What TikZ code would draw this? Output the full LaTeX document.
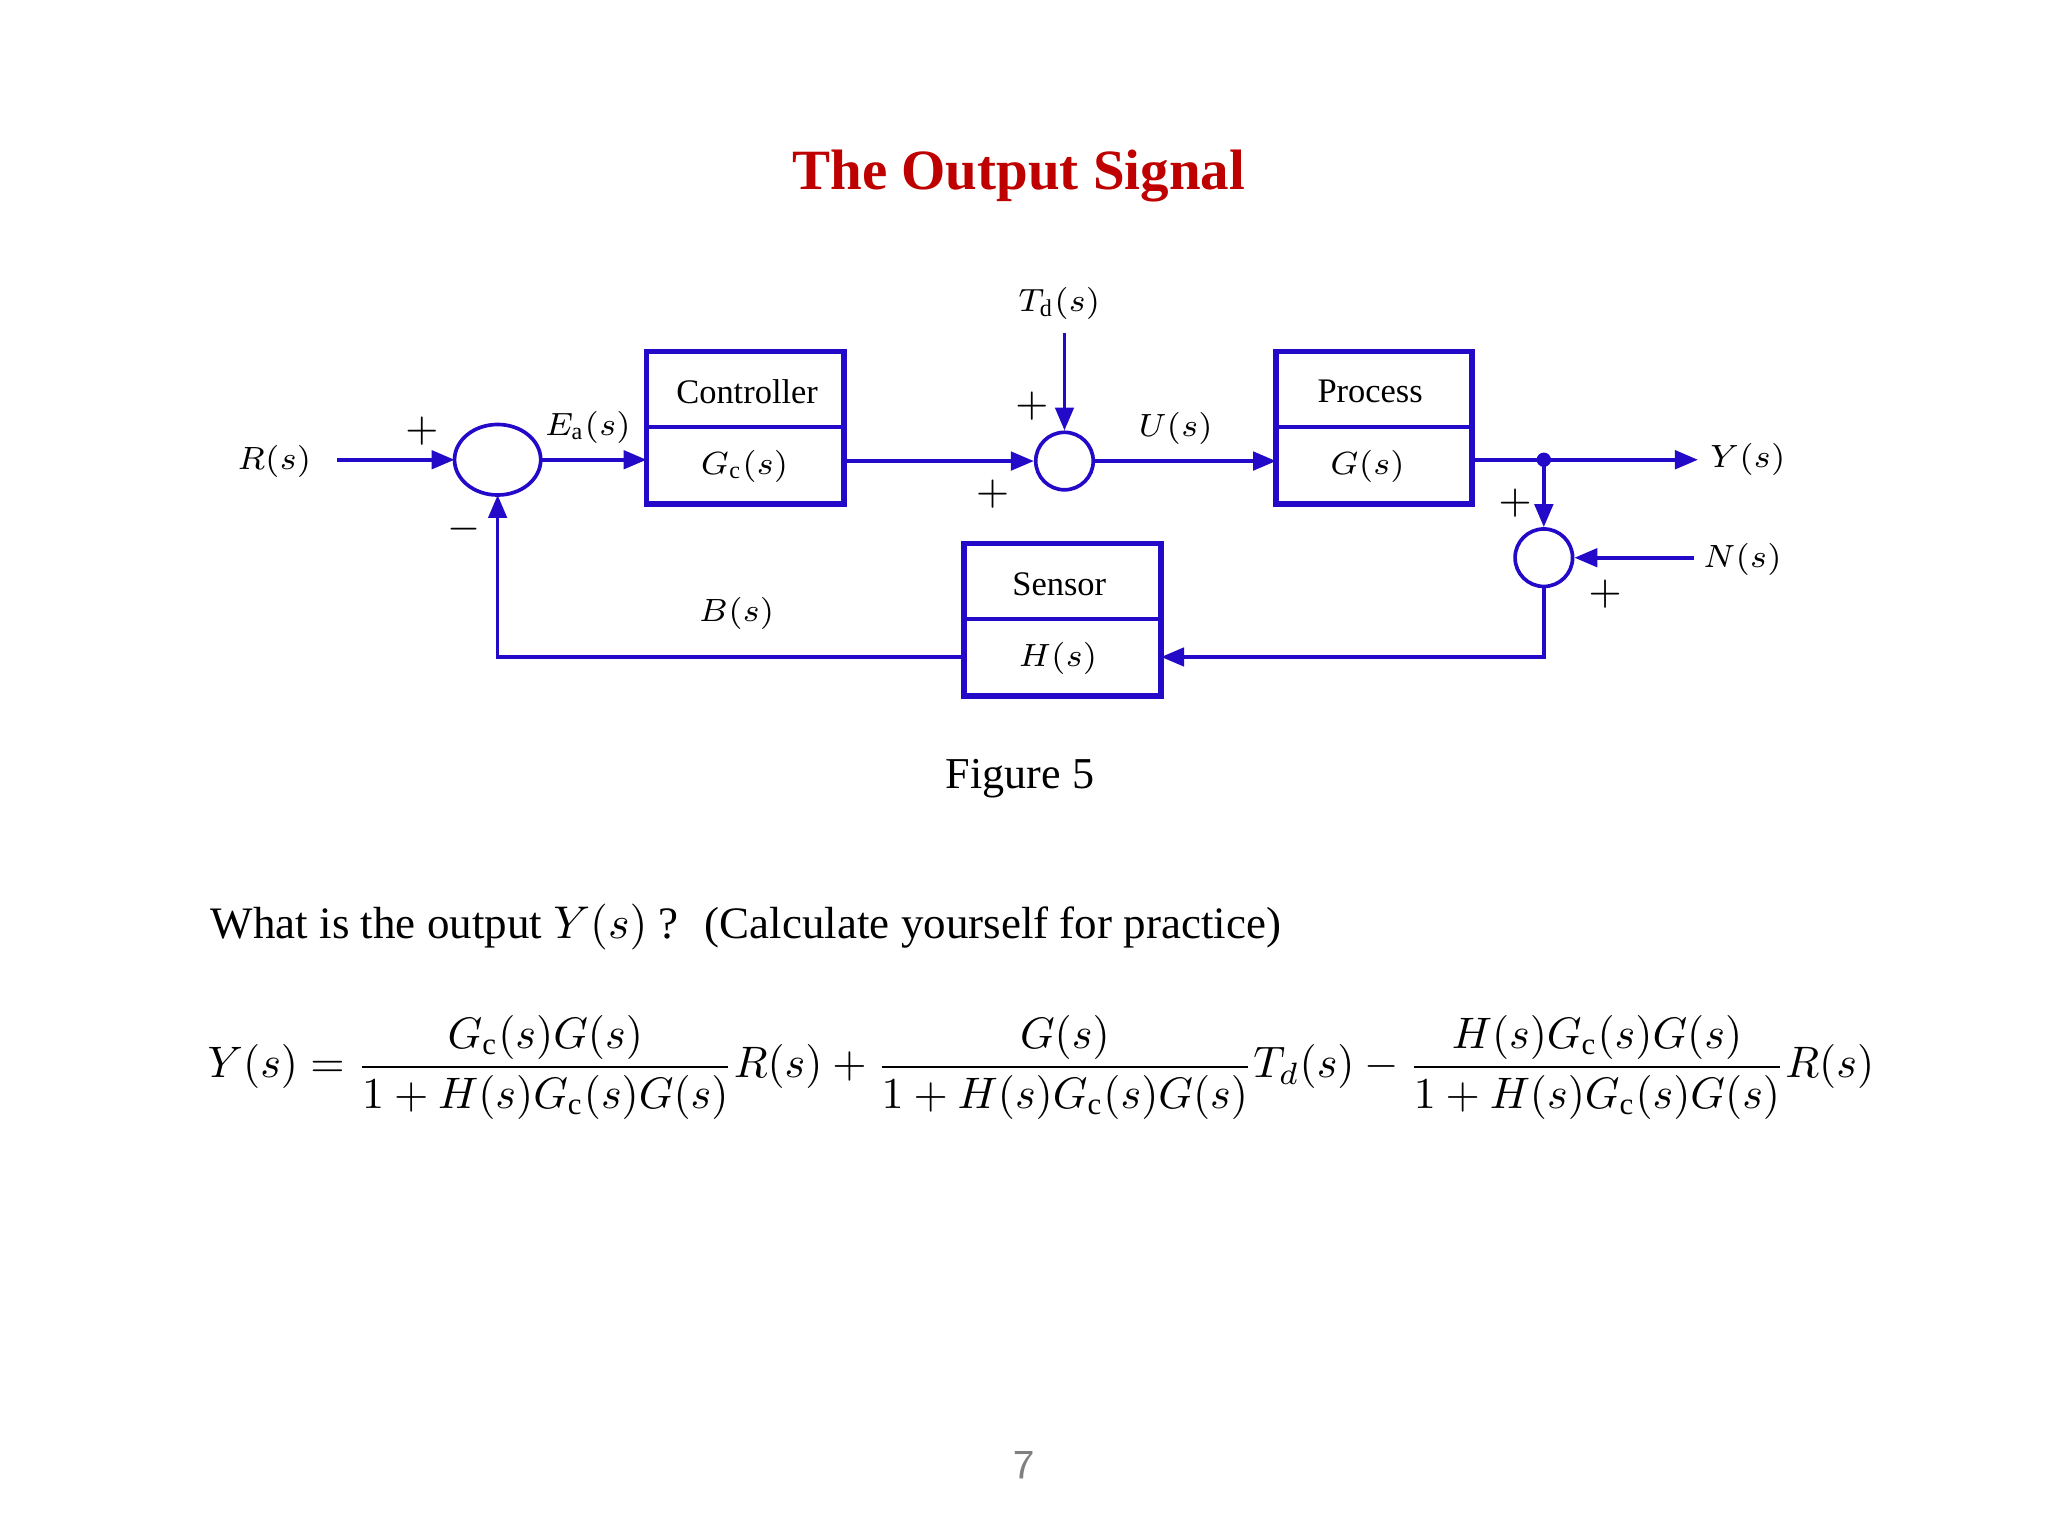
\documentclass[tikz,border=0pt]{standalone}
\usepackage{fontspec}
\usepackage{amsmath}
\setmainfont{Liberation Serif}
\usetikzlibrary{arrows.meta}
\definecolor{bl}{RGB}{35,10,200}
\definecolor{tred}{RGB}{190,0,0}
\begin{document}
\begin{tikzpicture}[x=0.01cm,y=-0.01cm,
  line width=0.8pt,
  sig/.style={draw=bl,-{Triangle[length=5pt,width=4pt]}},
  ln/.style={draw=bl},
  blk/.style={draw=bl,line width=1.2pt},
  lab/.style={font=\fontsize{7.5}{9}\selectfont},
  sgn/.style={font=\fontsize{9}{11}\selectfont}]
\useasboundingbox (0,0) rectangle (1568,1176);
\node[font=\fontsize{12.4}{15}\selectfont\bfseries,text=tred] (title) at (780,135) {The Output Signal};
% sums
\draw[bl] (381,352) ellipse (33 and 27);
\coordinate (s1) at (381,352);
\node[circle,draw=bl,minimum size=0.44cm,inner sep=0] (s2) at (815,353) {};
\node[circle,draw=bl,minimum size=0.44cm,inner sep=0] (s3) at (1182,427) {};
% boxes
\draw[blk] (495,269) rectangle (646,386); \draw[bl] (495,327)--(646,327);
\draw[blk] (977,269) rectangle (1127,386); \draw[bl] (977,327)--(1127,327);
\draw[blk] (738,416) rectangle (889,533); \draw[bl] (738,474)--(889,474);
\node[lab] (c1) at (572,300) {Controller};
\node[lab] (c2) at (570,357) {$G_{\mathrm{c}}(s)$};
\node[lab] (p1) at (1049,300) {Process};
\node[lab] (p2) at (1047,357) {$G(s)$};
\node[lab] (h1) at (811,447) {Sensor};
\node[lab] (h2) at (810,504) {$H(s)$};
% labels
\node[lab] (R) at (210,353) {$R(s)$};
\node[lab] (Ea) at (450,327) {$E_{\mathrm{a}}(s)$};
\node[lab] (Td) at (811,232) {$T_{\mathrm{d}}(s)$};
\node[lab] (U) at (900,328) {$U(s)$};
\node[lab] (Y) at (1338,352) {$Y(s)$};
\node[lab] (N) at (1334,428) {$N(s)$};
\node[lab] (B) at (564,470) {$B(s)$};
\node[sgn] (pl1) at (323,330) {$+$};
\node[sgn] (mi1) at (355,405) {$-$};
\node[sgn] (pl2) at (760,378) {$+$};
\node[sgn] (pl3) at (790,311) {$+$};
\node[sgn] (pl4) at (1160,385) {$+$};
\node[sgn] (pl5) at (1229,455) {$+$};
% connectors
\coordinate (r0) at (258,352);
\draw[sig] (r0) -- (348,352);
\draw[sig] (414,352) -- (495,352);
\draw[sig] (646,353) -- (s2.west);
\coordinate (td0) at (815,255);
\draw[sig] (td0) -- (s2.north);
\draw[sig] (s2.east) -- (977,353);
\coordinate (dot) at (1182,352);
\draw[ln] (1127,352) -- (dot);
\coordinate (y0) at (1300,352);
\draw[sig] (dot) -- (y0);
\fill[bl] (dot) circle (5.5);
\draw[sig] (dot) -- (s3.north);
\coordinate (n0) at (1297,427);
\draw[sig] (n0) -- (s3.east);
\coordinate (k1) at (1182,503);
\draw[sig] (s3.south) -- (k1) -- (889,503);
\coordinate (k2) at (381,503);
\draw[sig] (738,503) -- (k2) -- (381,379);
% text
\node[font=\fontsize{9.6}{12}\selectfont] (fig) at (781,596) {Figure 5};
\node[font=\fontsize{9.8}{12}\selectfont,anchor=west,inner sep=0] (q) at (160,710) {What is the output $Y(s)$ ?~ (Calculate yourself for practice)};
\node[scale=0.96,transform shape,font=\fontsize{10}{12}\selectfont] (eq) at (797,817) {$\displaystyle Y(s)=\frac{G_{\mathrm{c}}(s)G(s)}{1+H(s)G_{\mathrm{c}}(s)G(s)}R(s)+\frac{G(s)}{1+H(s)G_{\mathrm{c}}(s)G(s)}T_d(s)-\frac{H(s)G_{\mathrm{c}}(s)G(s)}{1+H(s)G_{\mathrm{c}}(s)G(s)}R(s)$};
\node[font=\fontsize{9}{11}\sffamily,text=gray] (pg) at (784,1122) {7};
\end{tikzpicture}
\end{document}
